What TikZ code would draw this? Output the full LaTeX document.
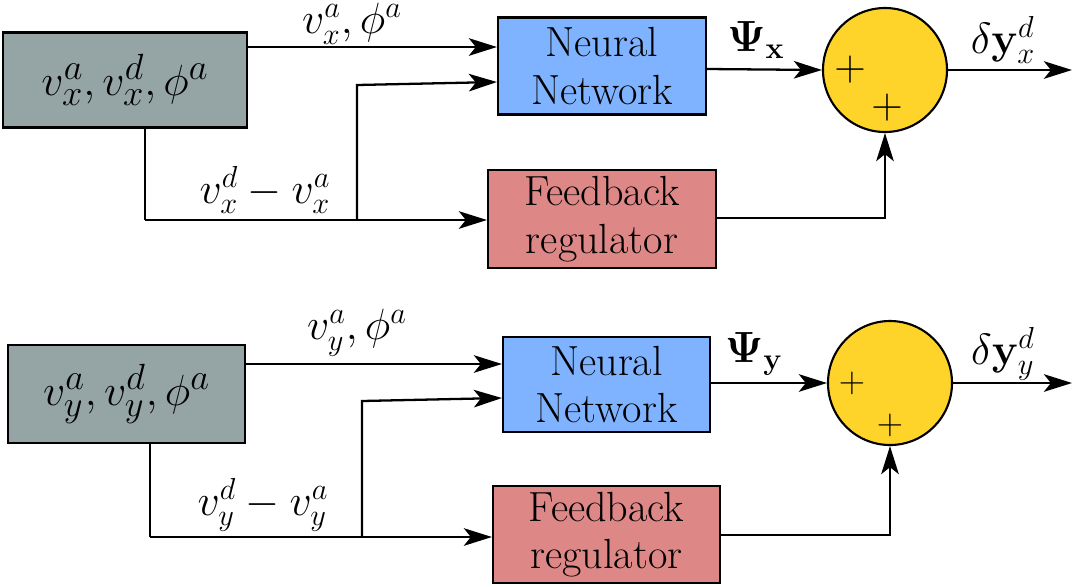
\documentclass[tikz,border=0pt]{standalone}
\usetikzlibrary{arrows.meta}
\begin{document}
\begin{tikzpicture}[x=0.02cm,y=-0.02cm,
 box/.style={draw=black,line width=1.2pt,inner sep=0pt,font=\fontsize{24}{27}\selectfont,align=center},
 con/.style={line width=1.3pt},
 arr/.style={con,-{Stealth[length=16pt,width=10pt,inset=4pt]}},
 lab/.style={font=\fontsize{25}{27}\selectfont}]
\definecolor{grayc}{HTML}{95A5A6}
\definecolor{nnc}{HTML}{80B3FF}
\definecolor{fbc}{HTML}{DE8787}
\definecolor{sumc}{HTML}{FFD42A}
\useasboundingbox (0,0) rectangle (1076,586);
% ---------- top ----------
\node[box,fill=grayc,minimum width=244*0.02cm,minimum height=95*0.02cm,font=\fontsize{29}{31}\selectfont] (g1) at (125,80) {$v_x^a,v_x^d,\phi^a$};
\node[box,fill=nnc,minimum width=208*0.02cm,minimum height=97*0.02cm] (n1) at (602,66) {Neural\\Network};
\node[box,fill=fbc,minimum width=228*0.02cm,minimum height=98*0.02cm] (f1) at (602,219) {Feedback\\regulator};
\node[circle,draw=black,line width=1.2pt,fill=sumc,minimum size=124*0.02cm,inner sep=0pt] (s1) at (885,70) {};
\node[font=\fontsize{26}{28}\selectfont] at (850,70) {$+$};
\node[font=\fontsize{26}{28}\selectfont] at (887,108) {$+$};
\coordinate (a1) at (145,220);
\coordinate (b1) at (357,220);
\coordinate (c1) at (357,85);
\coordinate (d1) at (885,218);
\coordinate (o1) at (1072,70);
\draw[arr] (g1.east|-0,47) -- (n1.west|-0,47);
\draw[con] (g1.south-|a1) -- (a1);
\draw[arr] (a1) -- (f1.west|-a1);
\draw[arr] (b1) -- (c1) -- (n1.west|-0,82);
\draw[arr] (n1.east|-0,69) -- (s1.west);
\draw[arr] (s1.east) -- (o1);
\draw[arr] (f1.east|-d1) -- (d1) -- (s1.south);
\node[lab] at (352,24) {$v_x^a,\phi^a$};
\node[lab] at (265,190) {$v_x^d-v_x^a$};
\node[lab] at (756,40) {$\mathbf{\Psi_x}$};
\node[lab] at (1003,40) {$\delta\mathbf{y}_x^d$};
% ---------- bottom ----------
\node[box,fill=grayc,minimum width=237*0.02cm,minimum height=98*0.02cm,font=\fontsize{29}{31}\selectfont] (g2) at (126.5,394) {$v_y^a,v_y^d,\phi^a$};
\node[box,fill=nnc,minimum width=207*0.02cm,minimum height=95*0.02cm] (n2) at (606.5,384.5) {Neural\\Network};
\node[box,fill=fbc,minimum width=227*0.02cm,minimum height=97*0.02cm] (f2) at (606.5,534.5) {Feedback\\regulator};
\node[circle,draw=black,line width=1.2pt,fill=sumc,minimum size=124*0.02cm,inner sep=0pt] (s2) at (890,383) {};
\node[font=\fontsize{20}{22}\selectfont] at (852,383) {$+$};
\node[font=\fontsize{20}{22}\selectfont] at (890,425) {$+$};
\coordinate (a2) at (150,537);
\coordinate (b2) at (362,537);
\coordinate (c2) at (362,401);
\coordinate (d2) at (890,535);
\coordinate (o2) at (1072,383);
\draw[arr] (g2.east|-0,364) -- (n2.west|-0,364);
\draw[con] (g2.south-|a2) -- (a2);
\draw[arr] (a2) -- (f2.west|-a2);
\draw[arr] (b2) -- (c2) -- (n2.west|-0,398);
\draw[arr] (n2.east|-0,383) -- (s2.west);
\draw[arr] (s2.east) -- (o2);
\draw[arr] (f2.east|-d2) -- (d2) -- (s2.south);
\node[lab] at (357,333) {$v_y^a,\phi^a$};
\node[lab] at (263,505) {$v_y^d-v_y^a$};
\node[lab] at (754,354) {$\mathbf{\Psi_y}$};
\node[lab] at (1003,354) {$\delta\mathbf{y}_y^d$};
\end{tikzpicture}
\end{document}
